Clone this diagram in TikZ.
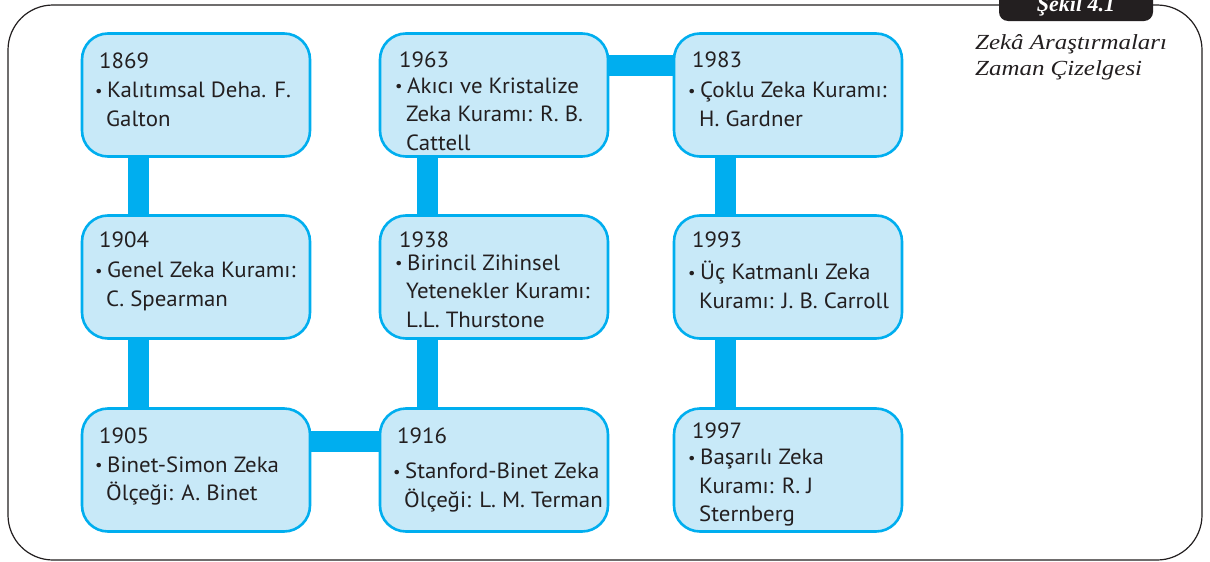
\documentclass[tikz,border=0pt]{standalone}
\usepackage{fontspec}
\setmainfont{Liberation Serif}
\newfontfamily\bodyf[FakeStretch=1.04]{PT Sans}
\newfontfamily\capf[FakeStretch=1.16]{Liberation Serif}
\newfontfamily\tabf{Liberation Serif}
\usetikzlibrary{calc}
\definecolor{cy}{HTML}{00AEEF}
\definecolor{lb}{HTML}{C8E9F8}
\definecolor{ink}{HTML}{231F20}
\newcommand{\bul}{\makebox[12pt][l]{\raisebox{0.15ex}{\scalebox{0.72}{\textbullet}}}}
\newcommand{\ind}{\hspace*{11pt}}
\newcommand{\yrind}{\hspace*{4pt}}
\tikzset{
  tbox/.style={draw=cy, fill=lb, line width=2.6pt, rounded corners=26pt,
    minimum width=228pt, minimum height=123pt, inner sep=0pt},
  txt/.style={anchor=north west, inner sep=0pt, align=left, text=ink,
    font=\bodyf\fontsize{22}{28.5}\selectfont},
  bar/.style={draw=cy, line width=21pt, line cap=butt},
  frame/.style={draw=ink, line width=1.2pt, rounded corners=45pt},
}
\begin{document}
\begin{tikzpicture}[x=1pt,y=-1pt]
\clip (0,0) rectangle (1210,562);
\fill[white] (0,0) rectangle (1210,562);
% outer frame
\draw[frame] (8,5) rectangle (1202,560);
% tab
\path[fill=ink, rounded corners=9pt] (999,-30) rectangle (1153,21);
\node[anchor=base, inner sep=0pt, text=white, font=\tabf\bfseries\itshape\fontsize{22}{26}\selectfont] (tab) at (1076,11) {Şekil 4.1};
% caption
\node[anchor=north west, inner sep=0pt, align=left, text=ink,
  font=\capf\itshape\fontsize{21.5}{26}\selectfont] (cap) at (975,34)
  {Zekâ Araştırmaları\\Zaman Çizelgesi};
% coordinates of boxes
\coordinate (p1869) at (196,95);
\coordinate (p1904) at (196,277);
\coordinate (p1905) at (196,470);
\coordinate (p1963) at (494,95);
\coordinate (p1938) at (494,277);
\coordinate (p1916) at (494,470);
\coordinate (p1983) at (788,95);
\coordinate (p1993) at (788,277);
\coordinate (p1997) at (788,470);
% box outlines as named nodes (for connector anchors)
\foreach \n in {1869,1904,1905,1963,1938,1916,1983,1993,1997}{
  \path (p\n) node[minimum width=228pt, minimum height=123pt, inner sep=0pt] (b\n) {};
}
% bars
\draw[bar] ($(b1869.south west)+(56.5,0)$) -- ($(b1904.north west)+(56.5,0)$);
\draw[bar] ($(b1904.south west)+(56.5,0)$) -- ($(b1905.north west)+(56.5,0)$);
\draw[bar] ($(b1905.east)+(0,-28.5)$) -- ($(b1916.west)+(0,-28.5)$);
\draw[bar] ($(b1916.north west)+(48,0)$) -- ($(b1938.south west)+(48,0)$);
\draw[bar] ($(b1938.north west)+(48,0)$) -- ($(b1963.south west)+(48,0)$);
\draw[bar] ($(b1963.east)+(0,-29.5)$) -- ($(b1983.west)+(0,-29.5)$);
\draw[bar] ($(b1983.south west)+(51.5,0)$) -- ($(b1993.north west)+(51.5,0)$);
\draw[bar] ($(b1993.south west)+(51.5,0)$) -- ($(b1997.north west)+(51.5,0)$);
% visible boxes
\foreach \n in {1869,1904,1905,1963,1938,1916,1983,1993,1997}{
  \path (p\n) node[tbox] (v\n) {};
}
% texts
\node[txt] (t1869) at (95,53) {\yrind 1869\\[0.5pt]\bul Kalıtımsal Deha. F.\\\ind Galton};
\node[txt] (t1904) at (95,232) {\yrind 1904\\[1.5pt]\bul Genel Zeka Kuramı:\\\ind C. Spearman};
\node[txt] (t1905) at (95,428) {\yrind 1905\\\bul Binet-Simon Zeka\\\ind Ölçeği: A. Binet};
\node[txt] (t1963) at (395,52) {\yrind 1963\\[-3pt]\bul Akıcı ve Kristalize\\\ind Zeka Kuramı: R. B.\\\ind Cattell};
\node[txt] (t1938) at (395,232) {\yrind 1938\\[-6pt]\bul Birincil Zihinsel\\\ind Yetenekler Kuramı:\\\ind L.L. Thurstone};
\node[txt] (t1916) at (393,428) {\yrind 1916\\[6.5pt]\bul Stanford-Binet Zeka\\\ind Ölçeği: L. M. Terman};
\node[txt] (t1983) at (688,52) {\yrind 1983\\[1.5pt]\bul Çoklu Zeka Kuramı:\\\ind H. Gardner};
\node[txt] (t1993) at (688,232) {\yrind 1993\\[3.5pt]\bul Üç Katmanlı Zeka\\\ind Kuramı: J. B. Carroll};
\node[txt] (t1997) at (688,423) {\yrind 1997\\[-2.5pt]\bul Başarılı Zeka\\\ind Kuramı: R. J\\\ind Sternberg};
\end{tikzpicture}
\end{document}
